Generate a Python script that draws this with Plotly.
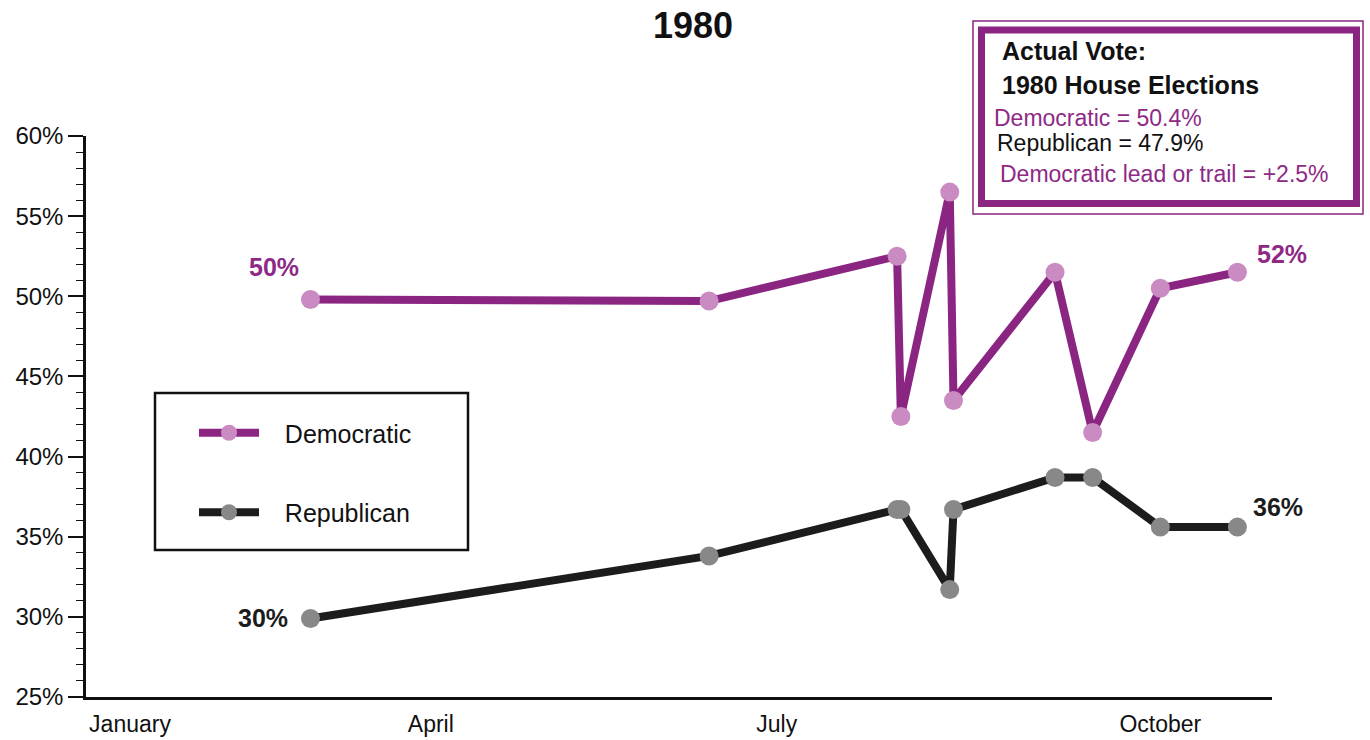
import plotly.graph_objects as go

# Poll dates, as day of the 1980 calendar year
poll_day = [62, 168, 218, 219, 232, 233, 260, 270, 288, 308.5]
dem_share = [49.8, 49.7, 52.5, 42.5, 56.5, 43.5, 51.5, 41.5, 50.5, 51.5]
rep_share = [29.9, 33.8, 36.7, 36.7, 31.7, 36.7, 38.7, 38.7, 35.6, 35.6]

month_ticks = [14, 94, 186, 288]
month_labels = ["January", "April", "July", "October"]

actual_dem = 50.4
actual_rep = 47.9

DEM_LINE = "#8b2582"
DEM_MARK = "#c98bc1"
DEM_TEXT = "#8e2a86"
REP_LINE = "#1c1c1c"
REP_MARK = "#888888"
FONT = "Liberation Sans"
PAD = "\u00a0" * 3  # gap between legend swatch and label

W, H = 1370, 740
L, R, T, B = 86, 98, 136, 43


def px(x):
    return (x - L) / (W - L - R)


def py(y):
    return (H - B - y) / (H - T - B)


fig = go.Figure()
fig.add_trace(go.Scatter(
    x=poll_day, y=dem_share, name=PAD + "Democratic", mode="lines+markers",
    line=dict(color=DEM_LINE, width=8),
    marker=dict(color=DEM_MARK, size=19, line=dict(width=0)),
    legendgroup="d",
))
fig.add_trace(go.Scatter(
    x=poll_day, y=rep_share, name=PAD + "Republican", mode="lines+markers",
    line=dict(color=REP_LINE, width=8),
    marker=dict(color=REP_MARK, size=19, line=dict(width=0)),
    legendgroup="r",
))

annotations = []
# first / last values printed beside the series
for series, color, shifts in [
    (dem_share, DEM_TEXT, [(-36, 32), (45, 18)]),
    (rep_share, REP_LINE, [(-47, 0), (41, 20)]),
]:
    for idx, (dx, dy) in zip([0, -1], shifts):
        annotations.append(dict(
            x=poll_day[idx], y=series[idx], xref="x", yref="y",
            text=f"{series[idx]:.0f}%", showarrow=False,
            xshift=dx, yshift=dy,
            font=dict(family=FONT, size=25, color=color, weight="bold"),
        ))

# actual vote box
box_lines = [
    ("Actual Vote:", 1000, 51, "#111111", 25, "bold"),
    ("1980 House Elections", 1000, 85, "#111111", 25, "bold"),
    (f"Democratic = {actual_dem:.1f}%", 992, 118, DEM_TEXT, 23, "normal"),
    (f"Republican = {actual_rep:.1f}%", 995, 143, "#111111", 23, "normal"),
    (f"Democratic lead or trail = {actual_dem - actual_rep:+.1f}%", 998, 174, DEM_TEXT, 23, "normal"),
]
for text, x0, y0, color, size, weight in box_lines:
    annotations.append(dict(
        x=px(x0), y=py(y0), xref="paper", yref="paper", text=text,
        showarrow=False, xanchor="left", yanchor="middle",
        font=dict(family=FONT, size=size, color=color, weight=weight),
    ))

shapes = [
    dict(type="rect", xref="paper", yref="paper",
         x0=px(973), x1=px(1363), y0=py(21), y1=py(214),
         line=dict(color=DEM_LINE, width=1.5)),
    dict(type="rect", xref="paper", yref="paper",
         x0=px(981.5), x1=px(1356.5), y0=py(30), y1=py(203.5),
         line=dict(color=DEM_LINE, width=7)),
    dict(type="rect", xref="paper", yref="paper",
         x0=px(155), x1=px(468), y0=py(393), y1=py(550),
         line=dict(color="#111111", width=2.5), layer="below"),
]

fig.update_layout(
    width=W, height=H,
    margin=dict(l=L, r=R, t=T, b=B),
    paper_bgcolor="white", plot_bgcolor="white",
    title=dict(text="<b>1980</b>", x=693 / W, xref="container", xanchor="center",
               y=1 - 25 / H, yref="container", yanchor="middle",
               font=dict(family=FONT, size=36, color="#111111")),
    xaxis=dict(
        range=[2.3, 317.7], showgrid=False, zeroline=False, automargin=False,
        showline=True, linecolor="#111111", linewidth=3,
        tickmode="array", tickvals=month_ticks, ticktext=month_labels,
        ticks="", ticklabelstandoff=4,
        tickfont=dict(family=FONT, size=23, color="#111111"),
    ),
    yaxis=dict(
        range=[25, 60], showgrid=False, zeroline=False, automargin=False,
        showline=True, linecolor="#111111", linewidth=2.5,
        tickmode="linear", tick0=25, dtick=5, ticksuffix="%",
        ticks="outside", ticklen=15, tickwidth=1.5, tickcolor="#111111",
        minor=dict(dtick=1, ticks="outside", ticklen=7, tickwidth=1.2, tickcolor="#111111"),
        tickfont=dict(family=FONT, size=24, color="#111111"),
    ),
    showlegend=True,
    legend=dict(
        x=px(194), y=py(410), xanchor="left", yanchor="top",
        bgcolor="rgba(0,0,0,0)", borderwidth=0,
        tracegroupgap=44, itemwidth=60,
        font=dict(family=FONT, size=25, color="#111111"),
    ),
    annotations=annotations,
    shapes=shapes,
)

fig.write_html("out.html")
